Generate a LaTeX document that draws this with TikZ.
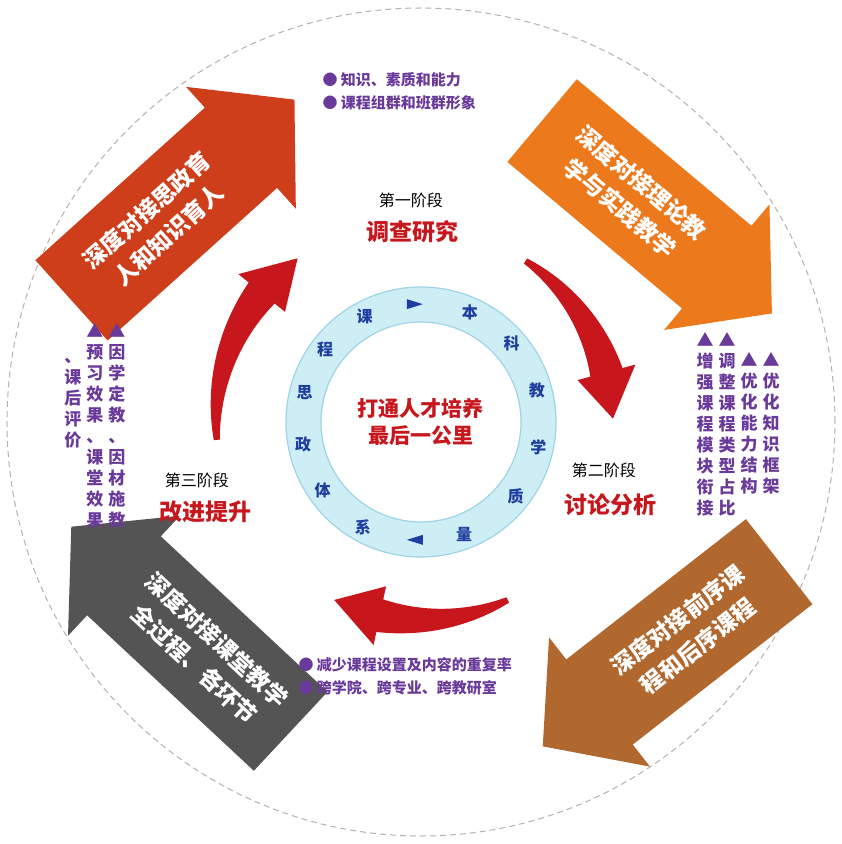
\documentclass[tikz,border=0pt]{standalone}
\usepackage{fontspec}
\setmainfont{Noto Sans CJK SC}
\usetikzlibrary{shapes.geometric}
\definecolor{cred}{HTML}{C8161D}
\definecolor{cpur}{HTML}{6A3A9A}
\definecolor{cblue}{HTML}{1F3FA0}
\definecolor{ringc}{HTML}{CDEEF5}
\definecolor{ringb}{HTML}{9FD3E6}
\definecolor{aA}{HTML}{CF3E1A}
\definecolor{aB}{HTML}{EC7A1C}
\definecolor{aC}{HTML}{B1682F}
\definecolor{aD}{HTML}{545454}
\newcommand\bigarrow[7]{% cx cy rot mirror color name text
  \begin{scope}[shift={(#1,#2)},rotate=#3]
    \fill[#5,xscale=#4] (-150,-54) -- (78,-54) -- (78,-82) -- (150,0) -- (78,82) -- (78,54) -- (-150,54) -- cycle;
    \node[bigtxt,rotate=#3] (#6) at ({-34*#4},0) {#7};
  \end{scope}}
\newcommand\crescent[4]{% name r a1 a2
  \fill[cred] plot[domain=#3:#4,samples=40] (\x:{#2+3+14*(#3-\x)/(#3-#4)}) -- plot[domain=#4:#3,samples=40] (\x:{#2-3-14*(#3-\x)/(#3-#4)}) -- cycle;
  \fill[cred] (#4+1:#2+30) -- (#4-13:#2) -- (#4+1:#2-30) -- cycle;
  \coordinate (#1) at (#4-13:#2);}
\begin{document}
\begin{tikzpicture}[x=1pt,y=1pt,
  bigtxt/.style={text=white,font=\fontsize{23}{33}\selectfont\bfseries,align=center},
  stage/.style={font=\fontsize{16}{18}\selectfont},
  stagebig/.style={text=cred,font=\fontsize{23}{26}\selectfont\bfseries},
  bul/.style={text=cpur,font=\fontsize{15}{18}\selectfont\bfseries,anchor=west},
  vcol/.style={text=cpur,font=\fontsize{17}{21}\selectfont\bfseries,anchor=north,align=center,inner sep=0},
  ringch/.style={text=cblue,font=\fontsize{16}{18}\selectfont\bfseries}]
\useasboundingbox (-421,-422) rectangle (421,422);
\fill[white] (-421,-422) rectangle (421,422);
\draw[gray!60,dashed,line width=1pt,dash pattern=on 6pt off 4pt] (0,0) circle (414);
% ring
\fill[ringc,even odd rule] (0,0) circle (135) (0,0) circle (100);
\draw[ringb,line width=1.2pt] (0,0) circle (135) (0,0) circle (100);
\node[text=cred,font=\fontsize{21}{27}\selectfont\bfseries,align=center] (ctr) at (0,0) {打通人才培养\\最后一公里};
\foreach \a/\c [count=\i] in {118/课,66/本,41/科,15/教,-12/学,-38/质,-69/量,-119/系,-145/体,-169/政,166/思,143/程}
  \node[ringch] (r\i) at (\a:120) {\c};
\fill[cblue] (93:118) ++(-8,5) -- ++(16,-5) -- ++(-16,-5) -- cycle;
\fill[cblue] (-93:118) ++(8,5) -- ++(-16,-5) -- ++(16,-5) -- cycle;
% crescents
\crescent{c1}{192}{57}{14}
\crescent{c2}{198}{-64}{-103}
\crescent{c3}{205}{185}{140}
% big arrows
\bigarrow{-238}{222}{42}{1}{aA}{A}{深度对接思政育\\人和知识育人}
\bigarrow{236}{205}{-40}{1}{aB}{B}{深度对接理论教\\学与实践教学}
\bigarrow{240}{-232}{38}{-1}{aC}{C}{深度对接前序课\\程和后序课程}
\bigarrow{-240}{-207}{-43}{-1}{aD}{D}{深度对接课堂教学\\全过程、各环节}
% stages
\node[stage] (s1) at (-10,222) {第一阶段};
\node[stagebig] (t1) at (-8,190) {调查研究};
\node[stage] (s2) at (183,-48) {第二阶段};
\node[stagebig] (t2) at (190,-83) {讨论分析};
\node[stage] (s3) at (-224,-58) {第三阶段};
\node[stagebig] (t3) at (-215,-90) {改进提升};
% bullets
\node[bul] (b1) at (-102,342) {●\ 知识、素质和能力};
\node[bul] (b2) at (-102,319) {●\ 课程组群和班群形象};
\node[bul] (b3) at (-126,-243) {●\ 减少课程设置及内容的重复率};
\node[bul] (b4) at (-126,-266) {●\ 跨学院、跨专业、跨教研室};
% vertical columns left
\node[vcol] (l1) at (-304,99) {▲\\因\\学\\定\\教\\、\\因\\材\\施\\教};
\node[vcol] (l2) at (-326,99) {▲\\预\\习\\效\\果\\、\\课\\堂\\效\\果};
\node[vcol] (l3) at (-348,64) {、\\课\\后\\评\\价};
% vertical columns right
\node[vcol] (q1) at (350,70) {▲\\优\\化\\知\\识\\框\\架};
\node[vcol] (q2) at (328,70) {▲\\优\\化\\能\\力\\结\\构};
\node[vcol] (q3) at (306,90) {▲\\调\\整\\课\\程\\类\\型\\占\\比};
\node[vcol] (q4) at (284,90) {▲\\增\\强\\课\\程\\模\\块\\衔\\接};
\end{tikzpicture}
\end{document}
